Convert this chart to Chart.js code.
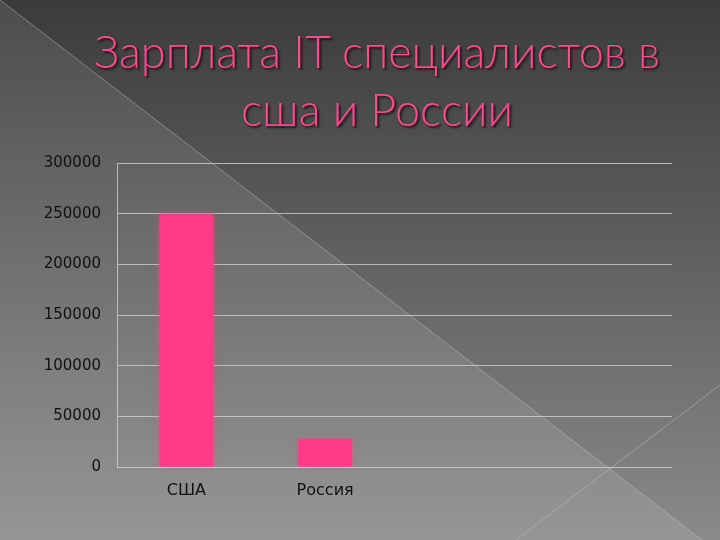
<!DOCTYPE html>
<html>
<head>
<meta charset="utf-8">
<script src="https://cdn.jsdelivr.net/npm/chart.js@4"></script>
<style>
  html, body { margin: 0; padding: 0; }
  body { width: 720px; height: 540px; position: relative; overflow: hidden; background: #555; }
  #wrap { position: absolute; left: 0; top: 0; width: 720px; height: 540px; }
  #title {
    position: absolute; left: 60px; width: 634px; top: 22px; margin: 0;
    text-align: center; color: #ff4a90;
    font-family: 'Lato', 'DejaVu Sans', sans-serif; font-weight: 300;
    font-size: 45px; line-height: 58px;
    text-shadow: 2px 2px 2px #1c1c1c, 0 0 1px #2a2a2a;
  }
</style>
</head>
<body>
<div id="wrap"><canvas id="myChart" width="720" height="540"></canvas></div>
<h1 id="title">Зарплата IT специалистов в<br>сша и России</h1>
<script>
// chart data
const countries = ['США', 'Россия', '', '']
const salaries = [250000, 28000, null, null]
const yTicks = [0, 50000, 100000, 150000, 200000, 250000, 300000]

// slide background: dark gradient, lighter triangle, thin diagonals
const slideBackground = {
  id: 'slideBackground',
  beforeDraw (chart) {
    const ctx = chart.ctx
    const w = chart.width
    const h = chart.height
    ctx.save()
    let g = ctx.createLinearGradient(0, 0, 0, h)
    g.addColorStop(0, '#3b3b3b')
    g.addColorStop(1, '#8a8a8a')
    ctx.fillStyle = g
    ctx.fillRect(0, 0, w, h)

    ctx.beginPath()
    ctx.moveTo(0, 0)
    ctx.lineTo(702, h)
    ctx.lineTo(0, h)
    ctx.closePath()
    let g2 = ctx.createLinearGradient(0, 0, 0, h)
    g2.addColorStop(0, '#4c4c4c')
    g2.addColorStop(1, '#969696')
    ctx.fillStyle = g2
    ctx.fill()

    ctx.strokeStyle = 'rgba(200,200,200,0.45)'
    ctx.lineWidth = 1
    ctx.beginPath()
    ctx.moveTo(0, 0)
    ctx.lineTo(702, h)
    ctx.moveTo(720, 385)
    ctx.lineTo(516, h)
    ctx.stroke()
    ctx.restore()
  }
}

// soft pink glow round the bars
const barGlow = {
  id: 'barGlow',
  beforeDatasetsDraw (chart) {
    chart.ctx.save()
    chart.ctx.shadowColor = 'rgba(255,70,140,0.55)'
    chart.ctx.shadowBlur = 6
  },
  afterDatasetsDraw (chart) {
    chart.ctx.restore()
  }
}

const configuration = {
  type: 'bar',
  data: {
    labels: countries,
    datasets: [{
      label: 'Зарплата',
      data: salaries,
      backgroundColor: '#ff3a87',
      categoryPercentage: 1,
      barPercentage: 0.39
    }]
  },
  options: {
    responsive: false,
    animation: false,
    layout: { padding: { top: 163, right: 48, left: 0, bottom: 0 } },
    plugins: {
      legend: { display: false },
      tooltip: { enabled: false }
    },
    scales: {
      x: {
        grid: { display: false, drawTicks: false },
        border: { display: false },
        ticks: {
          color: '#111',
          padding: 14,
          font: { family: 'DejaVu Sans', size: 16 }
        },
        afterFit (scale) { scale.height = 73 }
      },
      y: {
        min: 0,
        max: 300000,
        afterBuildTicks (scale) {
          scale.ticks = yTicks.map(v => ({ value: v }))
        },
        grid: { color: 'rgba(215,215,215,0.75)', lineWidth: 1, drawTicks: false },
        border: { color: 'rgba(215,215,215,0.75)' },
        ticks: {
          color: '#111',
          padding: 16,
          font: { family: 'DejaVu Sans', size: 15 },
          callback: value => String(value) // no thousands separator
        },
        afterFit (scale) { scale.width = 117 }
      }
    }
  },
  plugins: [slideBackground, barGlow]
}

const ctx = document.getElementById('myChart').getContext('2d')
const myChart = new Chart(ctx, configuration)
</script>
</body>
</html>
